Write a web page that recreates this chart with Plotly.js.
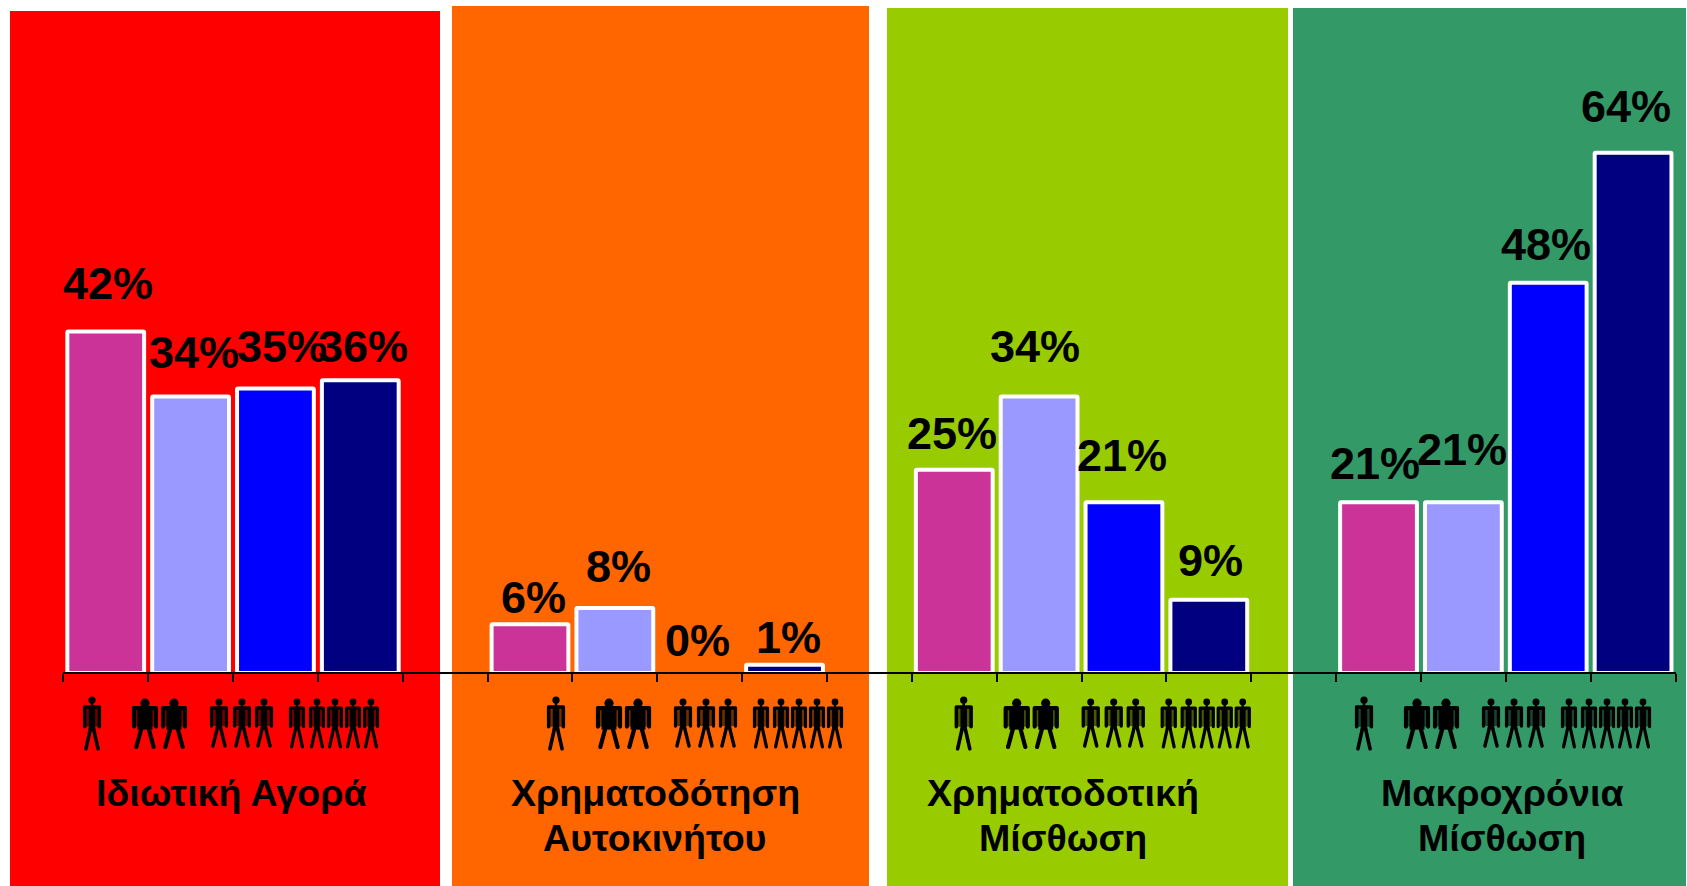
<!DOCTYPE html>
<html><head><meta charset="utf-8">
<script src="https://cdn.plot.ly/plotly-3.0.1.min.js"></script>
<style>html,body{margin:0;padding:0;background:#fff}#c{width:1687px;height:886px}</style>
</head><body><div id="c"></div>
<script>
const groupLines = [["Ιδιωτική Αγορά"],["Χρηματοδότηση","Αυτοκινήτου"],["Χρηματοδοτική","Μίσθωση"],["Μακροχρόνια","Μίσθωση"]];
const onePerson   = [42, 6, 25, 21];
const twoPeople   = [34, 8, 34, 21];
const threePeople = [35, 0, 21, 48];
const fourPlus    = [36, 1, 9, 64];
const seriesColors = ["#CC3399","#9999FF","#0000FF","#000080"];
const panelColors  = ["#FF0000","#FF6600","#99CC00","#339966"];

// page geometry, in px
const W = 1687, H = 886, axisY = 672, zeroY = 673, axisL = 63.3, axisR = 1675.5, pxPerUnit = 8.13;
const panelBoxes = [[10,440,11],[452,869,6],[887,1288,8],[1293,1686,8]];
const titleCenters = [231, 655, 1063, 1501.5];
const titleLineY = [793, 838];
const labelDx = [[2,3,7,3],[3.5,3.5,-2,4],[-2,-4,-2,2],[-4,-1.5,-2,-7.5]];
const labelDy = [[48,44,42,34],[27,41,32.5,27],[36,50,47,39],[39,53,38,46]];
const iconShift = [0, 464, 871.7, 1272];
const iconSets = [
  {xs:[92], w:19, top:696, h:55, torso:.34, stroke:3.6, head:3.6},
  {xs:[145,174], w:27, top:698, h:51, torso:.55, stroke:4.2, head:4.6},
  {xs:[219,242,264], w:19, top:698, h:50, torso:.34, stroke:3.4, head:3.5},
  {xs:[297,317,335,353,371], w:17, top:698, h:51, torso:.34, stroke:3.2, head:3.4}
];

const px = v => v / W, py = v => 1 - v / H;

function figureUri(set) {
  const w = set.w, h = set.h, c = w/2, sw = set.stroke, s = sw/2 + .3, sh = h*.2, t = w*set.torso;
  const svg = `<svg xmlns="http://www.w3.org/2000/svg" width="${w*4}" height="${h*4}" viewBox="0 0 ${w} ${h}">
<defs><filter id="b" x="-20%" y="-20%" width="140%" height="140%"><feGaussianBlur stdDeviation="0.4"/></filter></defs>
<g filter="url(#b)" fill="none" stroke="#000" stroke-width="${sw}" stroke-linecap="round" stroke-linejoin="round">
<circle cx="${c}" cy="${set.head+.6}" r="${set.head}" fill="#000" stroke="none"/>
<path d="M${c} ${set.head}V${sh}" stroke-width="${sw*.7}"/>
<rect x="${s}" y="${sh}" width="${w-2*s}" height="${h*.36}" fill="#000" fill-opacity=".55" stroke="none"/>
<path d="M${s} ${h*.56}V${sh}H${w-s}V${h*.56}"/>
<rect x="${c-t/2}" y="${sh}" width="${t}" height="${h*.42}" fill="#000" stroke="none"/>
<path d="M${c-t/4} ${h*.6}L${w*.18} ${h*.96}M${c+t/4} ${h*.6}L${w*.82} ${h*.96}"/>
</g></svg>`;
  return "data:image/svg+xml;charset=utf-8," + encodeURIComponent(svg);
}

const allSeries = [onePerson, twoPeople, threePeople, fourPlus];
const slot = (g, s) => g*5 + s;
const traces = allSeries.map((vals, s) => ({
  type:"bar",
  x: vals.map((_, g) => slot(g, s)),
  y: vals,
  width: 0.905,
  cliponaxis:false,
  marker:{color:seriesColors[s], line:{color:"#fff", width:vals.map(v => v > 0 ? 4 : 0)}, cornerradius:1},
  hoverinfo:"skip", showlegend:false
}));

const annotations = [];
allSeries.forEach((vals, s) => vals.forEach((v, g) => annotations.push({
  xref:"x", yref:"paper", x:slot(g,s), y:py(zeroY - v*pxPerUnit - labelDy[g][s]), xshift:labelDx[g][s],
  xanchor:"center", yanchor:"middle", showarrow:false, text:"<b>"+v+"%</b>",
  font:{family:"Liberation Sans, Arial, sans-serif", size:45, color:"#000"}
})));
groupLines.forEach((lines, g) => lines.forEach((t, i) => annotations.push({
  xref:"paper", yref:"paper", x:px(titleCenters[g]), y:py(titleLineY[i]), xanchor:"center", yanchor:"middle",
  showarrow:false, align:"center", text:"<b>"+t+"</b>",
  font:{family:"Liberation Sans, Arial, sans-serif", size:37.6, color:"#000"}
})));

const shapes = panelBoxes.map((b, i) => ({
  type:"rect", layer:"below", xref:"paper", yref:"paper",
  x0:px(b[0]), x1:px(b[1]), y0:0, y1:py(b[2]), fillcolor:panelColors[i], line:{width:0}
}));

const images = [];
iconShift.forEach(off => iconSets.forEach(set => set.xs.forEach(x => images.push({
  source:figureUri(set), xref:"paper", yref:"paper",
  x:px(x+off), y:py(set.top), sizex:set.w/W, sizey:set.h/H,
  xanchor:"center", yanchor:"top", sizing:"stretch", layer:"above"
}))));

const tickSlots = []; for (let i = 0; i <= 19; i++) tickSlots.push(i - 0.5);
const rangeBase = (zeroY - axisY) / pxPerUnit;

Plotly.newPlot("c", traces, {
  width:W, height:H, margin:{l:0,r:0,t:0,b:0,pad:0},
  paper_bgcolor:"#fff", plot_bgcolor:"rgba(0,0,0,0)", barmode:"overlay", showlegend:false,
  xaxis:{domain:[px(axisL),px(axisR)], range:[-0.5,18.5], tickmode:"array", tickvals:tickSlots,
    ticks:"outside", ticklen:8, tickwidth:2, tickcolor:"#000", showticklabels:false,
    showgrid:false, zeroline:false, showline:true, linecolor:"#000", linewidth:2, layer:"above traces"},
  yaxis:{domain:[py(axisY),1], range:[rangeBase, rangeBase + axisY/pxPerUnit], visible:false, showgrid:false, zeroline:false},
  shapes, annotations, images
}, {displayModeBar:false, staticPlot:true});
</script></body></html>
